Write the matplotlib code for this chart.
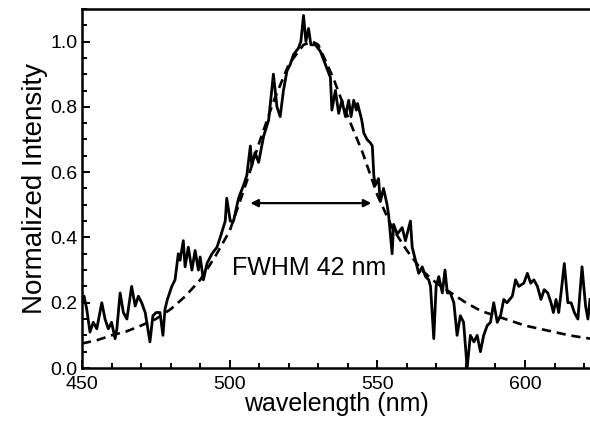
import matplotlib
matplotlib.use("Agg")
import matplotlib.pyplot as plt
from matplotlib.ticker import MultipleLocator

wavelength = [
    450.0, 450.7, 451.6, 452.7, 453.8, 455.0, 456.7, 457.8, 458.9, 460.0,
    461.2, 461.8, 462.9, 464.0, 465.2, 466.8, 468.0, 469.1, 470.2, 471.4,
    473.0, 474.0, 475.1, 476.4, 477.4, 478.1, 478.9, 480.4, 481.5, 482.6,
    483.2, 484.3, 484.9, 486.0, 487.2, 488.3, 489.4, 490.0, 491.1, 492.3,
    494.0, 495.7, 496.8, 498.5, 499.0, 500.2, 501.3, 503.0, 504.7, 505.8,
    507.0, 507.5, 508.6, 509.8, 511.5, 513.2, 514.8, 516.0, 517.1, 518.2,
    519.4, 520.5, 521.6, 523.3, 524.1, 525.0, 525.8, 526.7, 527.5, 529.0,
    530.7, 532.4, 534.1, 534.6, 535.8, 536.9, 538.0, 539.2, 540.3, 541.1,
    542.0, 542.9, 543.3, 544.7, 545.4, 546.5, 547.6, 548.3, 548.8, 549.3,
    550.4, 551.0, 552.1, 553.3, 553.8, 555.0, 555.5, 556.7, 558.4, 559.5,
    561.2, 561.8, 562.9, 564.0, 565.2, 566.3, 567.4, 568.0, 569.1, 569.9,
    570.8, 572.0, 572.9, 573.7, 574.7, 575.9, 577.0, 578.1, 579.2, 580.4,
    581.5, 582.7, 583.8, 584.9, 586.0, 587.2, 588.3, 589.4, 590.6, 591.7,
    592.8, 593.9, 595.7, 596.8, 597.9, 599.6, 600.8, 601.9, 603.0, 604.2,
    605.4, 606.5, 607.7, 608.8, 609.6, 610.5, 611.4, 612.2, 613.3, 614.5,
    615.6, 616.7, 617.9, 619.3, 620.5, 621.3, 622.0,
]
intensity = [
    0.20, 0.22, 0.18, 0.11, 0.14, 0.12, 0.20, 0.15, 0.12, 0.14,
    0.09, 0.12, 0.23, 0.17, 0.15, 0.25, 0.19, 0.22, 0.20, 0.17,
    0.08, 0.16, 0.17, 0.17, 0.10, 0.18, 0.21, 0.25, 0.27, 0.35,
    0.33, 0.39, 0.31, 0.37, 0.30, 0.36, 0.30, 0.34, 0.27, 0.32,
    0.35, 0.37, 0.40, 0.45, 0.52, 0.45, 0.45, 0.52, 0.56, 0.59,
    0.68, 0.62, 0.66, 0.63, 0.71, 0.76, 0.90, 0.80, 0.77, 0.85,
    0.91, 0.93, 0.96, 0.98, 1.00, 1.08, 1.00, 1.04, 0.99, 0.99,
    0.97, 0.93, 0.89, 0.79, 0.85, 0.78, 0.82, 0.77, 0.82, 0.77,
    0.82, 0.79, 0.81, 0.76, 0.72, 0.70, 0.69, 0.68, 0.59, 0.56,
    0.58, 0.51, 0.55, 0.50, 0.47, 0.35, 0.44, 0.41, 0.43, 0.39,
    0.45, 0.37, 0.33, 0.29, 0.31, 0.28, 0.27, 0.25, 0.09, 0.25,
    0.28, 0.23, 0.30, 0.23, 0.23, 0.20, 0.10, 0.16, 0.14, 0.00,
    0.10, 0.08, 0.10, 0.05, 0.10, 0.13, 0.14, 0.20, 0.14, 0.16,
    0.21, 0.20, 0.22, 0.27, 0.25, 0.26, 0.29, 0.26, 0.27, 0.25,
    0.21, 0.24, 0.23, 0.20, 0.17, 0.21, 0.17, 0.23, 0.32, 0.20,
    0.20, 0.17, 0.15, 0.31, 0.19, 0.15, 0.21,
]

fit_wavelength = [
    450, 455, 460, 465, 470, 475, 480, 485, 490, 495, 500, 505, 510, 515,
    520, 525, 528, 530, 535, 540, 545, 550, 555, 560, 565, 570, 575, 580,
    585, 590, 595, 600, 605, 610, 615, 622,
]
fit_intensity = [
    0.075, 0.085, 0.10, 0.112, 0.13, 0.15, 0.18, 0.22, 0.27, 0.34, 0.42,
    0.55, 0.69, 0.82, 0.93, 0.99, 1.00, 0.99, 0.89, 0.77, 0.66, 0.53, 0.43,
    0.36, 0.30, 0.26, 0.23, 0.20, 0.175, 0.16, 0.145, 0.13, 0.12, 0.11,
    0.10, 0.09,
]

fwhm_left, fwhm_right, fwhm_level = 507, 548, 0.505


def main() -> None:
    plt.rcParams['font.family'] = ['Liberation Sans', 'DejaVu Sans']
    fig = plt.figure(figsize=(5.9, 4.23), dpi=100)
    ax = fig.add_axes([0.139, 0.130, 0.861, 0.849])

    ax.plot(wavelength, intensity, color="black", lw=2.0)
    ax.plot(fit_wavelength, fit_intensity, color="black", lw=1.9,
            linestyle=(0, (3.5, 2.2)))

    ax.annotate("", xy=(fwhm_left, fwhm_level), xytext=(fwhm_right, fwhm_level),
                arrowprops=dict(arrowstyle="<|-|>", color="black", lw=1.6,
                                shrinkA=0, shrinkB=0, mutation_scale=11))
    ax.text(527, 0.305, "FWHM 42 nm", fontsize=18, ha="center", va="center")

    ax.set_xlim(450, 622)
    ax.set_ylim(0, 1.1)
    ax.xaxis.set_major_locator(MultipleLocator(50))
    ax.xaxis.set_minor_locator(MultipleLocator(10))
    ax.yaxis.set_major_locator(MultipleLocator(0.2))
    ax.yaxis.set_minor_locator(MultipleLocator(0.05))
    ax.tick_params(which="both", direction="in", width=1.4, labelsize=14)
    ax.tick_params(which="major", length=6)
    ax.tick_params(which="minor", length=3.5)
    ax.tick_params(axis="y", pad=3)
    ax.tick_params(axis="x", pad=6)
    ax.spines["right"].set_visible(False)
    for side in ("left", "bottom", "top"):
        ax.spines[side].set_linewidth(1.8)

    ax.set_xlabel("wavelength (nm)", fontsize=18, labelpad=-1)
    ax.set_ylabel("Normalized Intensity", fontsize=20, labelpad=2)

    fig.savefig("out.png", dpi=100)


if __name__ == '__main__':
    main()
